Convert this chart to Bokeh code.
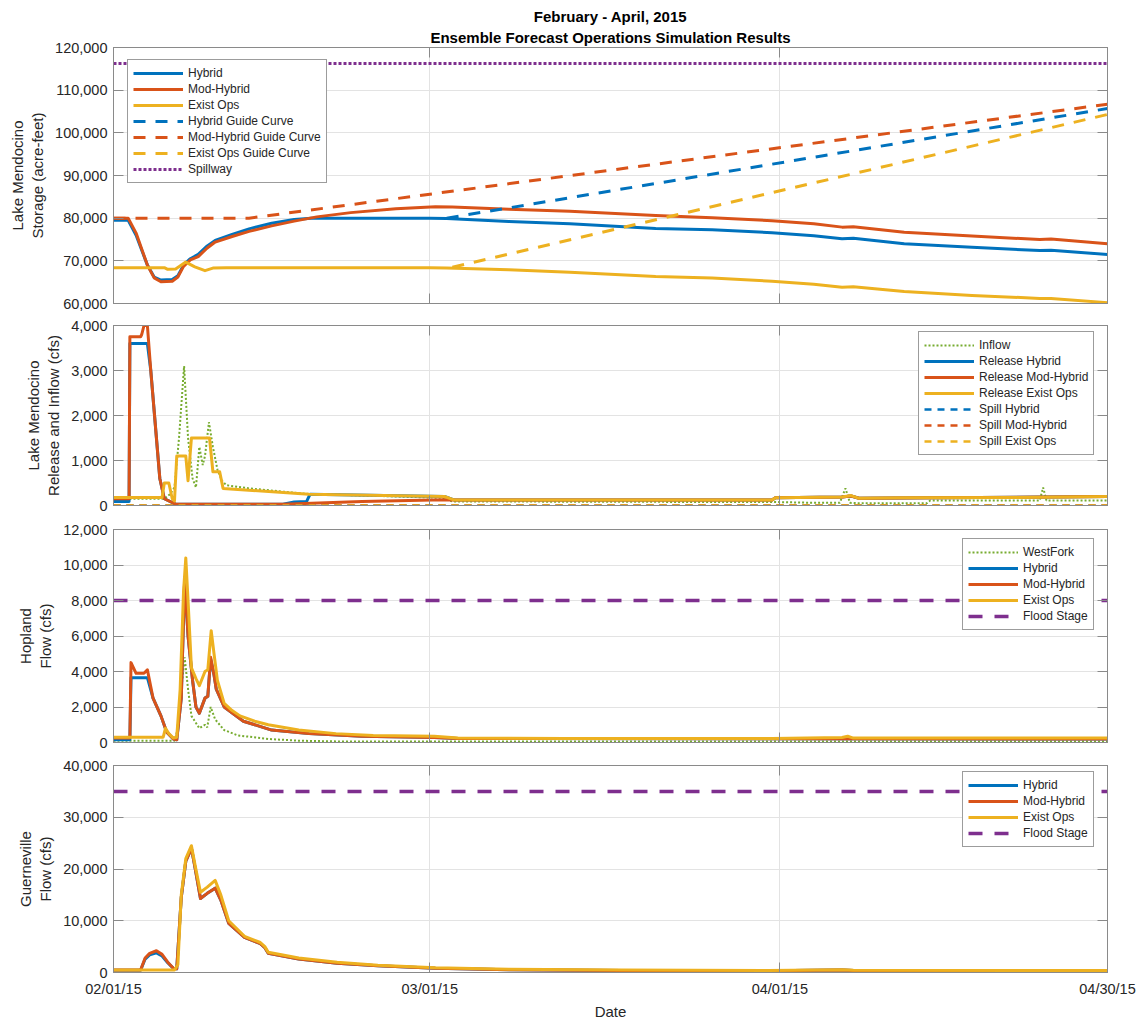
import numpy as np
from bokeh.plotting import figure
from bokeh.layouts import column
from bokeh.models import (Range1d, FixedTicker, NumeralTickFormatter, LinearAxis, DatetimeAxis,
                          DatetimeTickFormatter, CustomJSTickFormatter, Title)
from bokeh.embed import file_html
from bokeh.resources import INLINE

# ---------------- data (day offsets from 02/01/15, values) ----------------
START = "2015-02-01"
END = "2015-04-30"
x_tick_dates = ["2015-02-01", "2015-03-01", "2015-04-01", "2015-04-30"]

# Panel 1: storage (acre-feet)
hyb_stor_t = [0, 1.3, 2.0, 3.0, 3.6, 4.2, 5.2, 5.7, 6.2, 6.8, 7.5, 8.3, 9.0, 10.5, 12, 14, 16, 17.5, 20, 28, 29.5,
              35, 40.4, 48, 53, 58.3, 62, 64.5, 65.5, 70, 76, 82, 83, 88]
hyb_stor_v = [79500, 79500, 76000, 69000, 66200, 65500, 65600, 66500, 69000, 70500, 71500, 73500, 74800, 76200,
              77500, 78800, 79700, 80000, 80000, 80000, 79900, 79200, 78700, 77600, 77300, 76600, 75900, 75200,
              75300, 74000, 73200, 72400, 72500, 71500]
mod_stor_t = [0, 1.3, 2.0, 3.0, 3.6, 4.2, 5.2, 5.7, 6.2, 6.8, 7.5, 8.3, 9.0, 10.5, 12, 14, 16, 18, 21, 25, 28.5,
              30, 35, 40.4, 48, 53, 58.3, 62, 64.5, 65.5, 70, 76, 82, 83, 88]
mod_stor_v = [80000, 80000, 76500, 69000, 66000, 65100, 65200, 66200, 68700, 70200, 71000, 73000, 74400, 75700,
              76900, 78200, 79300, 80300, 81300, 82200, 82700, 82600, 82100, 81600, 80600, 80100, 79400, 78700,
              77900, 78000, 76700, 75800, 75000, 75100, 74000]
ex_stor_t = [0, 4.5, 4.8, 5.5, 6.4, 7.2, 8.1, 8.8, 10, 20, 28, 29.5, 35, 40.4, 48, 53, 58.3, 62, 64.5, 65.5,
             70, 76, 82, 83, 88]
ex_stor_v = [68400, 68400, 68000, 68100, 69700, 68600, 67700, 68300, 68400, 68400, 68400, 68300, 67900, 67300,
             66300, 66000, 65200, 64500, 63800, 63900, 62800, 61900, 61200, 61200, 60200]
hyb_guide_t = [29.5, 88]
hyb_guide_v = [80000, 105700]
mod_guide_t = [0, 12, 88]
mod_guide_v = [80000, 80000, 106700]
ex_guide_t = [30, 88]
ex_guide_v = [68500, 104300]
spill_t = [0, 88]
spill_v = [116250, 116250]

# Panel 2: release and inflow (cfs)
inflow_t = [0, 4.5, 5.0, 5.4, 5.8, 6.25, 6.6, 7.0, 7.3, 7.6, 7.9, 8.1, 8.45, 8.8, 9.2, 9.6, 10.0, 12, 17, 25,
            29, 30, 40, 50, 58, 62, 64.3, 64.8, 65.2, 66, 72, 72.3, 82, 82.3, 82.6, 88]
inflow_v = [150, 150, 250, 400, 1500, 3100, 1500, 600, 400, 1300, 900, 1100, 1850, 1300, 800, 550, 450, 380, 260,
            200, 170, 90, 85, 80, 80, 60, 60, 380, 60, 50, 50, 110, 110, 400, 110, 110]
hyb_rel_t = [0, 1.38, 1.45, 3.0, 3.3, 3.7, 4.1, 4.5, 5.5, 15, 16, 17.1, 17.4, 29.3, 30.2, 58.3, 58.6, 64.5,
             65.3, 66, 88]
hyb_rel_v = [90, 90, 3600, 3600, 3000, 1800, 600, 150, 30, 30, 80, 90, 250, 200, 120, 120, 170, 190, 210, 160, 200]
mod_rel_t = [0, 1.38, 1.45, 2.4, 2.5, 2.7, 3.0, 3.3, 3.7, 4.1, 4.5, 5.5, 15, 22, 29.3, 30.2, 58.3, 58.6, 64.5,
             65.3, 66, 88]
mod_rel_v = [150, 150, 3750, 3750, 3800, 4000, 4000, 3000, 1800, 600, 150, 30, 30, 90, 130, 120, 120, 170, 190,
             210, 160, 200]
ex_rel_t = [0, 4.3, 4.5, 4.9, 5.2, 5.4, 5.6, 6.4, 6.6, 6.9, 8.5, 8.8, 9.4, 9.7, 17.3, 29.3, 30.2, 58.3, 58.6,
            64.5, 65.3, 66, 70, 80, 88]
ex_rel_v = [180, 180, 500, 500, 150, 100, 1100, 1100, 550, 1500, 1500, 750, 750, 380, 250, 200, 120, 120, 170,
            190, 220, 160, 170, 180, 200]
spill_flow_t = [0, 88]
spill_flow_v = [0, 0]

# Panel 3: Hopland flow (cfs)
westfork_t = [0, 5.4, 5.7, 6.0, 6.3, 6.6, 6.9, 7.6, 8.1, 8.3, 8.6, 9.0, 9.8, 11, 13.7, 16.4, 20, 88]
westfork_v = [100, 100, 800, 3000, 4800, 3000, 1500, 800, 1000, 850, 2000, 1300, 700, 400, 200, 100, 60, 50]
hyb_hop_t = [0, 1.45, 1.55, 3.0, 3.5, 4.2, 4.7, 5.3, 5.6, 6.0, 6.3, 6.6, 7.0, 7.3, 7.6, 8.1, 8.35, 8.6, 8.9,
             9.1, 9.8, 11.5, 14, 17.3, 22, 28.4, 30.5, 88]
hyb_hop_v = [150, 150, 3650, 3650, 2500, 1500, 600, 200, 150, 2500, 9200, 6000, 3500, 2000, 1650, 2500, 2600,
             4700, 3800, 3000, 2000, 1200, 700, 500, 350, 280, 220, 200]
mod_hop_t = [0, 1.45, 1.55, 2.0, 2.7, 3.0, 3.5, 4.2, 4.7, 5.3, 5.6, 6.0, 6.3, 6.6, 7.0, 7.3, 7.6, 8.1, 8.35,
             8.6, 8.9, 9.1, 9.8, 11.5, 14, 17.3, 22, 28.4, 30.5, 88]
mod_hop_v = [250, 250, 4500, 3900, 3900, 4100, 2500, 1500, 600, 200, 150, 2500, 9300, 6000, 3500, 2000, 1650,
             2500, 2600, 4800, 3800, 3000, 2000, 1200, 700, 500, 350, 280, 220, 200]
ex_hop_t = [0, 4.4, 4.6, 4.9, 5.3, 5.6, 5.9, 6.2, 6.4, 6.6, 6.9, 7.3, 7.6, 8.1, 8.35, 8.65, 8.9, 9.2, 9.8,
            10.5, 11.2, 12.5, 13.7, 16.4, 19.7, 23, 28.4, 30.5, 40, 58.3, 64.5, 65, 65.5, 88]
ex_hop_v = [300, 300, 800, 500, 250, 300, 3000, 8500, 10400, 8000, 4200, 3600, 3200, 4000, 4100, 6300, 5000,
            3500, 2200, 1800, 1500, 1200, 1000, 700, 500, 400, 350, 250, 230, 230, 280, 350, 250, 250]
hop_flood_t = [0, 88]
hop_flood_v = [8000, 8000]

# Panel 4: Guerneville flow (cfs)
hyb_gue_t = [0, 2.4, 2.8, 3.2, 3.8, 4.3, 4.8, 5.3, 5.6, 6.0, 6.4, 6.9, 7.2, 7.7, 8.3, 9.0, 9.5, 10.2, 11.6,
             13.0, 13.4, 13.7, 16.4, 19.8, 23.4, 28.5, 35, 45, 58, 64.5, 65.5, 88]
hyb_gue_v = [450, 450, 2600, 3400, 3800, 3200, 1900, 800, 700, 14500, 21500, 24000, 20500, 14300, 15300, 16300,
             14000, 9500, 6800, 5600, 4800, 3700, 2600, 1800, 1300, 800, 550, 400, 350, 500, 380, 330]
mod_gue_t = [0, 2.4, 2.8, 3.2, 3.8, 4.3, 4.8, 5.3, 5.6, 6.0, 6.4, 6.9, 7.2, 7.7, 8.3, 9.0, 9.5, 10.2, 11.6,
             13.0, 13.4, 13.7, 16.4, 19.8, 23.4, 28.5, 35, 45, 58, 64.5, 65.5, 88]
mod_gue_v = [500, 500, 2800, 3700, 4200, 3500, 2000, 800, 700, 14500, 21500, 24000, 20500, 14300, 15300, 16300,
             14000, 9500, 6800, 5600, 4800, 3700, 2600, 1800, 1300, 800, 550, 400, 350, 500, 380, 330]
ex_gue_t = [0, 5.4, 5.7, 6.0, 6.4, 6.9, 7.2, 7.7, 8.3, 9.0, 9.5, 10.2, 11.6, 13.0, 13.4, 13.7, 16.4, 19.8,
            23.4, 28.5, 35, 45, 58, 64.5, 65.5, 88]
ex_gue_v = [500, 500, 1500, 15000, 22000, 24500, 21000, 15500, 16500, 17800, 15000, 10000, 7000, 5800, 5000,
            3900, 2800, 2000, 1400, 900, 650, 480, 400, 550, 420, 380]
gue_flood_t = [0, 88]
gue_flood_v = [35000, 35000]

# ---------------- styling ----------------
BLUE, RED, YEL, PUR, GRN = "#0072BD", "#D95319", "#EDB120", "#7E2F8E", "#77AC30"
FONT = "Liberation Sans"
TXT = "#262626"
AX = "#8a8a8a"


def dt(days):
    base = np.datetime64(START, "ms")
    return base + (np.asarray(days, dtype=float) * 86400000).astype("timedelta64[ms]")


def ms(d):
    return float(np.datetime64(d, "ms").astype("int64"))


x_range = Range1d(start=ms(START), end=ms(END))
x_ticks = [ms(d) for d in x_tick_dates]
fmt = "%m/%d/%y"
dt_fmt = DatetimeTickFormatter(milliseconds=fmt, seconds=fmt, minsec=fmt, minutes=fmt, hourmin=fmt,
                               hours=fmt, days=fmt, months=fmt, years=fmt)
empty_fmt = CustomJSTickFormatter(code="return ''")


def make_fig(frame_h, ylo, yhi, ystep, ylabel, top, bottom, show_x):
    p = figure(frame_width=994, frame_height=frame_h, x_axis_type="datetime", x_range=x_range,
               y_range=Range1d(ylo, yhi), output_backend="svg", toolbar_location=None,
               min_border_left=113, min_border_right=32, min_border_top=top, min_border_bottom=bottom)
    yt = FixedTicker(ticks=list(range(ylo, yhi + 1, ystep)))
    xt = FixedTicker(ticks=x_ticks)
    p.yaxis.ticker = yt
    p.ygrid.ticker = yt
    p.xaxis.ticker = xt
    p.xgrid.ticker = xt
    p.yaxis.formatter = NumeralTickFormatter(format="0,0")
    p.yaxis.axis_label = ylabel
    for ax in p.axis:
        ax.major_tick_in = 10
        ax.major_tick_out = 0
        ax.minor_tick_in = 0
        ax.minor_tick_out = 0
        ax.axis_line_color = AX
        ax.major_tick_line_color = AX
        ax.major_label_text_font = FONT
        ax.major_label_text_font_size = "14.5px"
        ax.major_label_text_color = TXT
        ax.axis_label_text_font = FONT
        ax.axis_label_text_font_size = "15px"
        ax.axis_label_text_font_style = "normal"
        ax.axis_label_text_color = TXT
    p.yaxis.major_label_standoff = 6
    p.yaxis.axis_label_standoff = 6
    if show_x:
        p.xaxis.formatter = dt_fmt
        p.xaxis.axis_label = "Date"
        p.xaxis.major_label_standoff = 8
        p.xaxis.axis_label_standoff = 3
    else:
        p.xaxis.formatter = empty_fmt
        p.xaxis.major_label_standoff = 0
        p.xaxis.major_label_text_font_size = "1px"
    # mirrored inward ticks on right and top
    r = LinearAxis(ticker=yt, formatter=empty_fmt, major_tick_in=10, major_tick_out=0, minor_tick_in=0,
                   minor_tick_out=0, axis_line_color=AX, major_tick_line_color=AX, major_label_standoff=0,
                   major_label_text_font_size="1px")
    p.add_layout(r, "right")
    t = DatetimeAxis(ticker=xt, formatter=empty_fmt, major_tick_in=10, major_tick_out=0, minor_tick_in=0,
                     minor_tick_out=0, axis_line_color=AX, major_tick_line_color=AX, major_label_standoff=0,
                     major_label_text_font_size="1px")
    p.add_layout(t, "above")
    p.xgrid.grid_line_color = "#e3e3e3"
    p.ygrid.grid_line_color = "#e3e3e3"
    p.outline_line_color = AX
    p.background_fill_color = "white"
    p.border_fill_color = "white"
    return p


def style_legend(p, loc):
    lg = p.legend[0]
    lg.location = loc
    lg.margin = 0
    lg.label_text_font = FONT
    lg.label_text_font_size = "12px"
    lg.label_text_color = TXT
    lg.label_height = 16
    lg.glyph_height = 16
    lg.glyph_width = 50
    lg.label_standoff = 5
    lg.spacing = 0
    lg.padding = 5
    lg.border_line_color = "#3a3a3a"
    lg.border_line_width = 1
    lg.background_fill_color = "white"
    lg.background_fill_alpha = 1.0


SOLID = dict(line_width=3, line_join="round")

# ---------------- panel 1 ----------------
p1 = make_fig(256, 60000, 120000, 10000, "Lake Mendocino\nStorage (acre-feet)", 47, 11, False)
p1.add_layout(Title(text="Ensemble Forecast Operations Simulation Results", align="center", standoff=4,
                    text_font=FONT, text_font_size="15px", text_font_style="bold", text_color="black"), "above")
p1.add_layout(Title(text="February - April, 2015", align="center", standoff=0,
                    text_font=FONT, text_font_size="15px", text_font_style="bold", text_color="black"), "above")
p1.line(dt(hyb_stor_t), hyb_stor_v, color=BLUE, legend_label="Hybrid", **SOLID)
p1.line(dt(mod_stor_t), mod_stor_v, color=RED, legend_label="Mod-Hybrid", **SOLID)
p1.line(dt(ex_stor_t), ex_stor_v, color=YEL, legend_label="Exist Ops", **SOLID)
p1.line(dt(hyb_guide_t), hyb_guide_v, color=BLUE, line_width=3, line_dash="12 10", legend_label="Hybrid Guide Curve")
p1.line(dt(mod_guide_t), mod_guide_v, color=RED, line_width=3, line_dash="12 10", legend_label="Mod-Hybrid Guide Curve")
p1.line(dt(ex_guide_t), ex_guide_v, color=YEL, line_width=3, line_dash="12 10", legend_label="Exist Ops Guide Curve")
p1.line(dt(spill_t), spill_v, color=PUR, line_width=3, line_dash="3 2", legend_label="Spillway")
style_legend(p1, (14, 120))

# ---------------- panel 2 ----------------
p2 = make_fig(180, 0, 4000, 1000, "Lake Mendocino\nRelease and Inflow (cfs)", 11, 12, False)
p2.line(dt(inflow_t), inflow_v, color=GRN, line_width=2, line_dash="2 2", legend_label="Inflow")
p2.line(dt(hyb_rel_t), hyb_rel_v, color=BLUE, legend_label="Release Hybrid", **SOLID)
p2.line(dt(mod_rel_t), mod_rel_v, color=RED, legend_label="Release Mod-Hybrid", **SOLID)
p2.line(dt(ex_rel_t), ex_rel_v, color=YEL, legend_label="Release Exist Ops", **SOLID)
p2.line(dt(spill_flow_t), spill_flow_v, color=BLUE, line_width=2.5, line_dash="7 6", legend_label="Spill Hybrid")
p2.line(dt(spill_flow_t), spill_flow_v, color=RED, line_width=2.5, line_dash="7 6", legend_label="Spill Mod-Hybrid")
p2.line(dt(spill_flow_t), spill_flow_v, color=YEL, line_width=2.5, line_dash="7 6", legend_label="Spill Exist Ops")
style_legend(p2, (805, 50))

# ---------------- panel 3 ----------------
p3 = make_fig(213, 0, 12000, 2000, "Hopland\nFlow (cfs)", 12, 11, False)
p3.line(dt(westfork_t), westfork_v, color=GRN, line_width=2, line_dash="2 2", legend_label="WestFork")
p3.line(dt(hyb_hop_t), hyb_hop_v, color=BLUE, legend_label="Hybrid", **SOLID)
p3.line(dt(mod_hop_t), mod_hop_v, color=RED, legend_label="Mod-Hybrid", **SOLID)
p3.line(dt(ex_hop_t), ex_hop_v, color=YEL, legend_label="Exist Ops", **SOLID)
p3.line(dt(hop_flood_t), hop_flood_v, color=PUR, line_width=3.5, line_dash="14 12", legend_label="Flood Stage")
style_legend(p3, (849, 112))

# ---------------- panel 4 ----------------
p4 = make_fig(207, 0, 40000, 10000, "Guerneville\nFlow (cfs)", 12, 46, True)
p4.line(dt(hyb_gue_t), hyb_gue_v, color=BLUE, legend_label="Hybrid", **SOLID)
p4.line(dt(mod_gue_t), mod_gue_v, color=RED, legend_label="Mod-Hybrid", **SOLID)
p4.line(dt(ex_gue_t), ex_gue_v, color=YEL, legend_label="Exist Ops", **SOLID)
p4.line(dt(gue_flood_t), gue_flood_v, color=PUR, line_width=3.5, line_dash="14 12", legend_label="Flood Stage")
style_legend(p4, (849, 125))

layout = column(p1, p2, p3, p4, spacing=0)
open("out.html", "w").write(file_html(layout, INLINE))
